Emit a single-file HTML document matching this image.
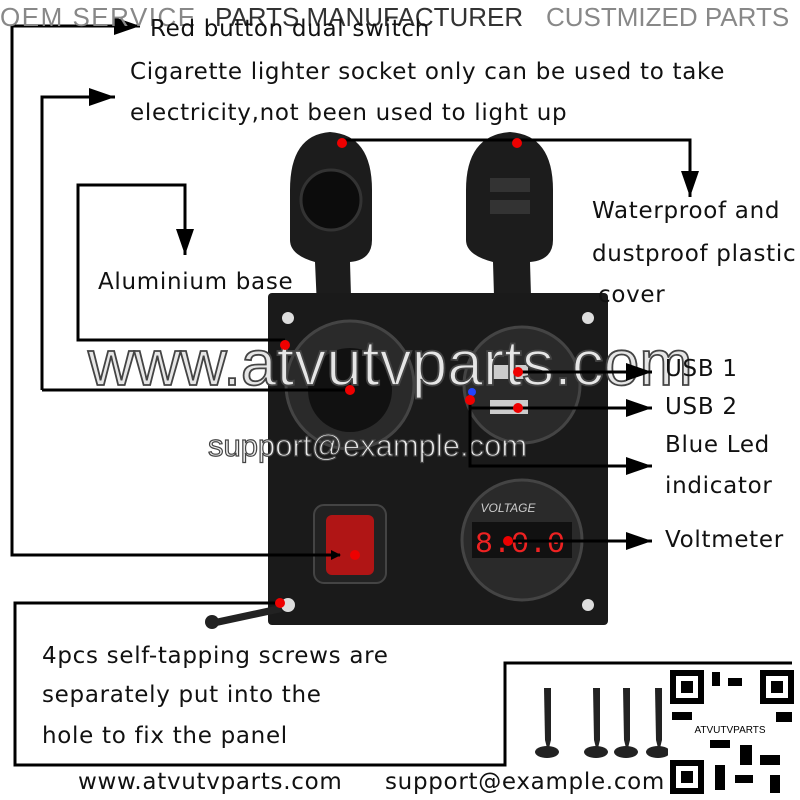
<!DOCTYPE html>
<html><head><meta charset="utf-8"><style>
html,body{margin:0;padding:0;background:#fff;}
#c{position:relative;width:800px;height:800px;overflow:hidden;font-family:"Liberation Sans","DejaVu Sans",sans-serif;}
.t{position:absolute;font-size:23px;color:#111;white-space:nowrap;letter-spacing:0.7px;font-family:"DejaVu Sans","Liberation Sans",sans-serif;}
.h{position:absolute;top:2px;font-size:26px;white-space:nowrap;}
svg{position:absolute;left:0;top:0;}
</style></head><body><div id="c">
<svg width="800" height="800" viewBox="0 0 800 800">
<defs>
<marker id="a" markerWidth="10" markerHeight="10" refX="9" refY="5" orient="auto" markerUnits="userSpaceOnUse"><path d="M0,0 L10,5 L0,10 z" fill="#000"/></marker>
<marker id="b" markerWidth="26" markerHeight="18" refX="26" refY="9" orient="auto" markerUnits="userSpaceOnUse"><path d="M0,0 L26,9 L0,18 z" fill="#000"/></marker>
</defs>
<path d="M290,190 Q290,135 330,132 Q372,135 372,190 L372,240 Q372,260 350,262 L352,330 L318,330 L315,262 Q290,255 290,240 Z" fill="#1c1c1c"/>
<circle cx="331" cy="200" r="30" fill="#0c0c0c" stroke="#333" stroke-width="3"/>
<path d="M466,190 Q466,135 510,132 Q553,135 553,190 L553,240 Q553,260 530,262 L532,330 L495,330 L493,262 Q466,255 466,240 Z" fill="#1c1c1c"/>
<rect x="490" y="178" width="40" height="14" fill="#333"/><rect x="490" y="200" width="40" height="14" fill="#333"/>
<rect x="268" y="293" width="340" height="332" rx="4" fill="#1a1a1a"/>
<circle cx="288" cy="318" r="6" fill="#ddd"/><circle cx="588" cy="318" r="6" fill="#ddd"/>
<circle cx="288" cy="605" r="7" fill="#ddd"/><circle cx="588" cy="605" r="6" fill="#ddd"/>
<circle cx="350" cy="385" r="64" fill="#2a2a2a" stroke="#444" stroke-width="3"/>
<circle cx="350" cy="390" r="42" fill="#111"/>
<circle cx="522" cy="385" r="58" fill="#2a2a2a" stroke="#444" stroke-width="3"/>
<rect x="490" y="365" width="38" height="14" fill="#ccc"/><rect x="490" y="400" width="38" height="14" fill="#ccc"/>
<circle cx="472" cy="392" r="4" fill="#2244ff"/>
<circle cx="522" cy="540" r="60" fill="#2a2a2a" stroke="#444" stroke-width="3"/>
<rect x="472" y="522" width="100" height="36" fill="#111"/>
<text x="520" y="552" text-anchor="middle" font-size="30" fill="#e22" font-family="Liberation Mono,monospace">8.0.0</text>
<text x="508" y="512" text-anchor="middle" font-size="12" fill="#ccc" font-style="italic">VOLTAGE</text>
<rect x="314" y="505" width="72" height="78" rx="10" fill="#222" stroke="#444" stroke-width="2"/>
<rect x="326" y="515" width="48" height="60" rx="6" fill="#b01515"/>
<g fill="#222"><path d="M210,620 L280,605 L282,612 L212,627 Z"/><circle cx="212" cy="622" r="7"/></g>
<g fill="#222">
<path d="M544,688 l7,0 0,52 -3,12 -3,-12z"/><ellipse cx="547" cy="752" rx="12" ry="6"/>
<path d="M593,688 l7,0 0,52 -3,12 -3,-12z"/><ellipse cx="596" cy="752" rx="12" ry="6"/>
<path d="M623,688 l7,0 0,52 -3,12 -3,-12z"/><ellipse cx="626" cy="752" rx="12" ry="6"/>
<path d="M655,688 l7,0 0,52 -3,12 -3,-12z"/><ellipse cx="658" cy="752" rx="12" ry="6"/>
</g>
<rect x="668" y="668" width="128" height="128" fill="#fff"/>
<g fill="#000">
<rect x="670" y="670" width="34" height="34"/><rect x="676" y="676" width="22" height="22" fill="#fff"/><rect x="681" y="681" width="12" height="12"/>
<rect x="760" y="670" width="34" height="34"/><rect x="766" y="676" width="22" height="22" fill="#fff"/><rect x="771" y="681" width="12" height="12"/>
<rect x="670" y="760" width="34" height="34"/><rect x="676" y="766" width="22" height="22" fill="#fff"/><rect x="681" y="771" width="12" height="12"/>
<rect x="712" y="672" width="8" height="14"/><rect x="728" y="678" width="14" height="8"/><rect x="710" y="740" width="20" height="8"/>
<rect x="740" y="745" width="12" height="20"/><rect x="760" y="755" width="20" height="10"/><rect x="715" y="765" width="10" height="25"/>
<rect x="735" y="775" width="18" height="8"/><rect x="770" y="775" width="10" height="18"/><rect x="672" y="712" width="20" height="8"/>
<rect x="776" y="712" width="16" height="10"/>
</g>
<text x="730" y="733" text-anchor="middle" font-size="10" fill="#000">ATVUTVPARTS</text>
<text x="88" y="385" font-size="64" fill="#e6e6e6" stroke="#444" stroke-width="1.8" font-family="Liberation Sans,sans-serif">www.atvutvparts.com</text>
<text x="208" y="456" font-size="31" fill="#eee" stroke="#444" stroke-width="1.2" font-family="Liberation Sans,sans-serif">support@example.com</text>
<g stroke="#000" stroke-width="3" fill="none">
<polyline points="12,26 12,555 340,555" marker-end="url(#a)"/>
<line x1="12" y1="26" x2="140" y2="26" marker-end="url(#b)"/>
<polyline points="42,390 42,97 115,97" marker-end="url(#b)"/>
<line x1="42" y1="390" x2="345" y2="390"/>
<polyline points="285,340 78,340 78,185 185,185 185,255" marker-end="url(#b)"/>
<polyline points="340,140 690,140 690,197" marker-end="url(#b)"/>
<line x1="520" y1="372" x2="652" y2="372" marker-end="url(#b)"/>
<polyline points="470,400 470,408 652,408" marker-end="url(#b)"/>
<polyline points="470,408 470,466 652,466" marker-end="url(#b)"/>
<line x1="510" y1="541" x2="652" y2="541" marker-end="url(#b)"/>
<polyline points="280,603 15,603 15,765 505,765 505,663 792,663"/>
</g>
<g fill="#e00">
<circle cx="342" cy="143" r="5"/><circle cx="517" cy="143" r="5"/><circle cx="285" cy="345" r="5"/>
<circle cx="350" cy="390" r="5"/><circle cx="518" cy="372" r="5"/><circle cx="470" cy="400" r="5"/>
<circle cx="518" cy="408" r="5"/><circle cx="355" cy="555" r="5"/><circle cx="508" cy="541" r="5"/><circle cx="280" cy="603" r="5"/>
</g>
</svg>
<div class="h" style="left:0;color:#888;letter-spacing:1.5px;">OEM SERVICE</div>
<div class="h" style="left:215px;color:#333;">PARTS MANUFACTURER</div>
<div class="h" style="left:546px;color:#888;">CUSTMIZED PARTS</div>
<div class="t" style="left:150px;top:16px;">Red button dual switch</div>
<div class="t" style="left:130px;top:59px;">Cigarette lighter socket only can be used to take</div>
<div class="t" style="left:130px;top:100px;">electricity,not been used to light up</div>
<div class="t" style="left:592px;top:198px;">Waterproof and</div>
<div class="t" style="left:592px;top:241px;">dustproof plastic</div>
<div class="t" style="left:598px;top:282px;">cover</div>
<div class="t" style="left:98px;top:269px;">Aluminium base</div>
<div class="t" style="left:665px;top:356px;">USB 1</div>
<div class="t" style="left:665px;top:394px;">USB 2</div>
<div class="t" style="left:665px;top:432px;">Blue Led</div>
<div class="t" style="left:665px;top:473px;">indicator</div>
<div class="t" style="left:665px;top:527px;">Voltmeter</div>
<div class="t" style="left:42px;top:643px;">4pcs self-tapping screws are</div>
<div class="t" style="left:42px;top:682px;">separately put into the</div>
<div class="t" style="left:42px;top:723px;">hole to fix the panel</div>
<div class="t" style="left:78px;top:769px;">www.atvutvparts.com</div>
<div class="t" style="left:385px;top:769px;">support@example.com</div>
</div></body></html>
